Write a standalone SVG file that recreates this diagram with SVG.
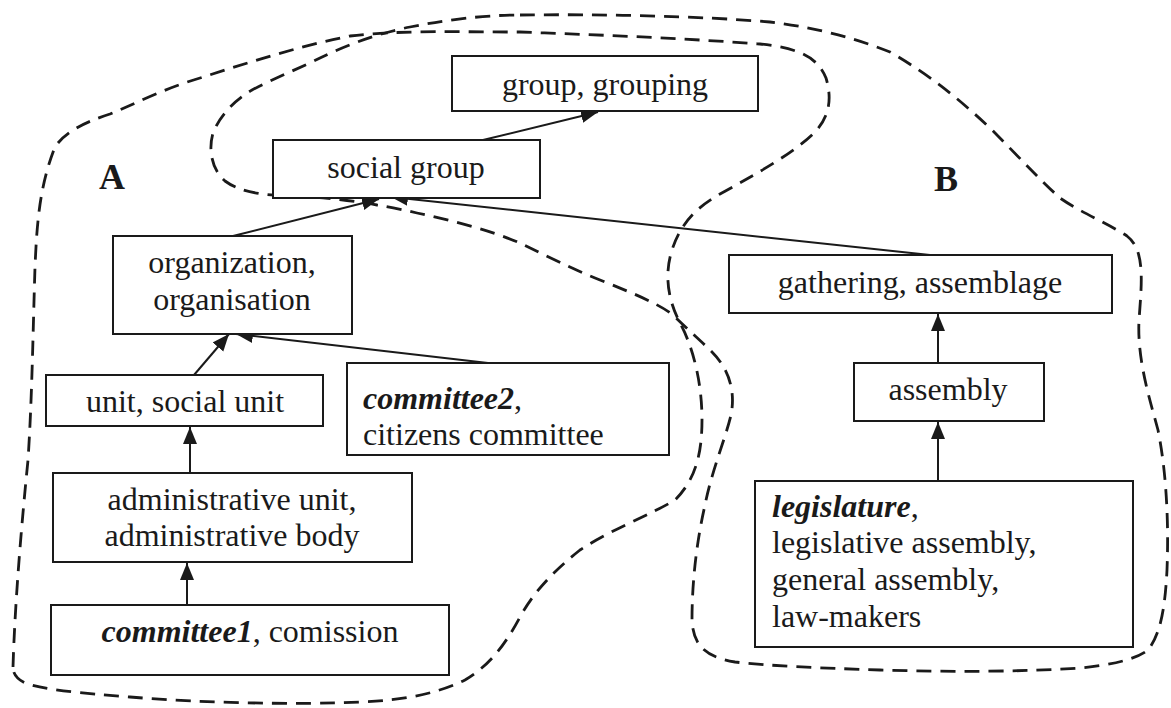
<svg xmlns="http://www.w3.org/2000/svg" width="1171" height="708" viewBox="0 0 1171 708">
  <style>
    .box { fill: #ffffff; stroke: #1a1a1a; stroke-width: 2; }
    .lbl { font-family: "Liberation Serif", "Times New Roman", serif; font-size: 32px; fill: #1a1a1a; }
    .mid { text-anchor: middle; }
    .em { font-weight: bold; font-style: italic; }
    .region { font-family: "Liberation Serif", "Times New Roman", serif; font-size: 36px; font-weight: bold; fill: #1a1a1a; text-anchor: middle; }
    .edge { stroke: #1a1a1a; stroke-width: 2; fill: none; marker-end: url(#arrow); }
    .outline { stroke: #1a1a1a; stroke-width: 2.8; fill: none; stroke-dasharray: 15 9; stroke-linejoin: round; }
  </style>
  <defs>
    <!-- filled triangular arrowhead, tip at the end of the line -->
    <marker id="arrow" markerUnits="userSpaceOnUse" markerWidth="18" markerHeight="15" refX="17" refY="7" orient="auto">
      <path d="M0,0 L17,7 L0,14 z" fill="#1a1a1a"/>
    </marker>
  </defs>
  <rect width="1171" height="708" fill="#ffffff"/>

  <!-- dashed region outlines -->
  <g id="regions">
    <!-- region A -->
    <path class="outline" d="M13,667 C15,600 22,520 28,460 C32,400 33,330 35,267 C37,220 40,185 55,147 C65,132 85,122 110,114 C135,104 160,90 200,78 C250,62 300,46 350,36 C400,30 460,32 520,32 C600,35 680,38 760,44 C800,48 818,58 826,78 C832,98 830,116 815,132 C795,152 760,172 720,194 C695,208 680,225 672,250 C664,275 668,300 680,323 C692,345 702,380 702,420 C702,455 695,480 675,500 C650,515 610,530 580,550 C555,570 535,590 520,617 C505,645 490,665 465,680 C440,692 410,700 360,702 C300,705 200,703 130,697 C80,693 45,690 25,683 C15,678 13,672 13,667 Z"/>
    <!-- region B -->
    <path class="outline" d="M520,15 C600,14 700,16 770,22 C820,28 860,40 890,52 C930,75 960,100 990,128 C1020,158 1040,180 1060,198 C1080,212 1105,222 1127,236 C1145,250 1142,280 1139,320 C1137,360 1150,400 1158,430 C1166,470 1169,520 1167,570 C1165,610 1160,635 1148,650 C1135,660 1110,665 1080,668 C1020,672 950,672 880,670 C820,668 770,666 735,662 C705,657 693,645 692,620 C692,580 697,540 705,505 C712,470 725,440 731,415 C736,390 728,368 712,352 C700,340 688,330 672,314 C655,302 630,292 600,280 C570,268 545,255 520,243 C490,230 450,220 417,213 C395,208 385,206 377,205 C350,200 320,197 290,196 C260,195 240,192 225,181 C212,170 208,150 213,133 C220,115 235,100 252,90 C275,78 300,68 320,58 C345,46 375,34 410,27 C440,21 480,15 520,15 Z"/>
  </g>

  <!-- connectors -->
  <g id="connectors">
    <line class="edge" x1="483" y1="140" x2="598" y2="112"/>
    <line class="edge" x1="233" y1="236" x2="379" y2="199"/>
    <line class="edge" x1="930" y1="255" x2="391" y2="197"/>
    <line class="edge" x1="194" y1="375" x2="229" y2="334"/>
    <line class="edge" x1="488" y1="363" x2="236" y2="334"/>
    <line class="edge" x1="190" y1="473" x2="190" y2="427"/>
    <line class="edge" x1="187" y1="605" x2="187" y2="563"/>
    <line class="edge" x1="938" y1="363" x2="938" y2="314"/>
    <line class="edge" x1="938" y1="481" x2="938" y2="422"/>
  </g>

  <!-- region labels -->
  <text class="region" x="112" y="189">A</text>
  <text class="region" x="946" y="191">B</text>

  <!-- nodes -->
  <g id="group-grouping">
    <rect class="box" x="452" y="56" width="306" height="55"/>
    <text class="lbl mid" x="605" y="95">group, grouping</text>
  </g>
  <g id="social-group">
    <rect class="box" x="273" y="140" width="267" height="58"/>
    <text class="lbl mid" x="406" y="178">social group</text>
  </g>
  <g id="organization">
    <rect class="box" x="113" y="236" width="239" height="98"/>
    <text class="lbl mid" x="232" y="273">organization,</text>
    <text class="lbl mid" x="232" y="310">organisation</text>
  </g>
  <g id="unit">
    <rect class="box" x="46" y="375" width="277" height="51"/>
    <text class="lbl mid" x="185" y="412">unit, social unit</text>
  </g>
  <g id="committee2">
    <rect class="box" x="347" y="363" width="322" height="92"/>
    <text class="lbl" x="363" y="409"><tspan class="em">committee2</tspan>,</text>
    <text class="lbl" x="363" y="445">citizens committee</text>
  </g>
  <g id="administrative-unit">
    <rect class="box" x="53" y="473" width="359" height="89"/>
    <text class="lbl mid" x="232" y="510">administrative unit,</text>
    <text class="lbl mid" x="232" y="546">administrative body</text>
  </g>
  <g id="committee1">
    <rect class="box" x="51" y="605" width="398" height="70"/>
    <text class="lbl mid" x="250" y="642"><tspan class="em">committee1</tspan>, comission</text>
  </g>
  <g id="gathering">
    <rect class="box" x="729" y="255" width="383" height="58"/>
    <text class="lbl mid" x="920" y="293">gathering, assemblage</text>
  </g>
  <g id="assembly">
    <rect class="box" x="854" y="363" width="190" height="58"/>
    <text class="lbl mid" x="948" y="400">assembly</text>
  </g>
  <g id="legislature">
    <rect class="box" x="755" y="481" width="378" height="166"/>
    <text class="lbl" x="772" y="517"><tspan class="em">legislature</tspan>,</text>
    <text class="lbl" x="772" y="553">legislative assembly,</text>
    <text class="lbl" x="772" y="590">general assembly,</text>
    <text class="lbl" x="772" y="627">law-makers</text>
  </g>
</svg>
